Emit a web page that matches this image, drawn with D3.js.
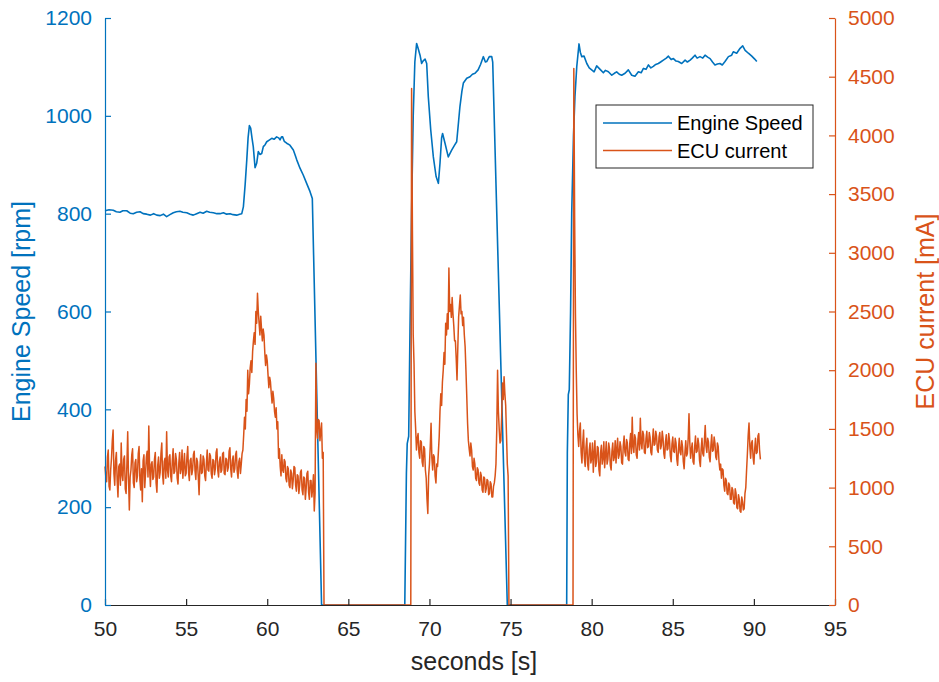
<!DOCTYPE html>
<html>
<head>
<meta charset="utf-8">
<script src="https://cdn.jsdelivr.net/npm/d3@7"></script>
<style>
  body { margin: 0; background: #fff; }
  svg { display: block; }
  text { font-family: "Liberation Sans", Arial, Helvetica, sans-serif; }
</style>
</head>
<body>
<svg id="chart" width="939" height="682"></svg>
<script>
// ---- axis ticks ----
const timeTicks = [50, 55, 60, 65, 70, 75, 80, 85, 90, 95];
const speedTicks = [0, 200, 400, 600, 800, 1000, 1200];
const currentTicks = [0, 500, 1000, 1500, 2000, 2500, 3000, 3500, 4000, 4500, 5000];

// ---- engine speed (time in s, speed in rpm) ----
const speedTime = [
  50.0, 50.25, 50.51, 50.7, 50.92, 51.1, 51.34, 51.55, 51.74, 51.95,
  52.16, 52.35, 52.57, 52.8, 53.0, 53.19, 53.4, 53.6, 53.8, 54.0,
  54.21, 54.4, 54.62, 54.8, 55.04, 55.25, 55.44, 55.65, 55.86, 56.05,
  56.27, 56.45, 56.68, 56.9, 57.09, 57.3, 57.5, 57.71, 57.9, 58.12,
  58.3, 58.43, 58.53, 58.64, 58.74, 58.82, 58.9, 58.98, 59.06, 59.14,
  59.25, 59.35, 59.45, 59.55, 59.66, 59.76, 59.87, 59.97, 60.1, 60.28,
  60.42, 60.58, 60.7, 60.79, 60.88, 60.95, 61.05, 61.2, 61.4, 61.61,
  61.72, 61.82, 62.02, 62.22, 62.43, 62.64, 62.78, 63.35,
  68.48, 68.58, 68.63, 68.72, 68.8, 68.9, 69.0, 69.1, 69.21, 69.3,
  69.42, 69.52, 69.6, 69.73, 69.83, 69.93, 70.08, 70.24, 70.41, 70.55,
  70.65, 70.75, 70.81, 70.96, 71.16, 71.37, 71.55, 71.68, 71.8, 71.88,
  72.0, 72.09, 72.3, 72.5, 72.65, 72.81, 73.0, 73.15, 73.32, 73.45,
  73.53, 73.69, 73.84, 73.9, 74.8,
  78.46, 78.5, 78.56, 78.62, 78.7, 78.77, 78.88, 78.97, 79.08, 79.22,
  79.3, 79.39, 79.53, 79.7, 79.85, 80.0, 80.15, 80.31, 80.52, 80.72,
  80.85, 81.03, 81.24, 81.4, 81.54, 81.7, 81.85, 82.06, 82.26, 82.47,
  82.67, 82.88, 83.05, 83.19, 83.35, 83.5, 83.65, 83.8, 83.95, 84.11,
  84.25, 84.42, 84.6, 84.73, 84.9, 85.04, 85.2, 85.34, 85.55, 85.76,
  85.9, 86.07, 86.2, 86.37, 86.5, 86.68, 86.85, 86.99, 87.15, 87.3,
  87.45, 87.6, 87.75, 87.91, 88.05, 88.22, 88.43, 88.63, 88.73, 88.94,
  89.15, 89.31, 89.46, 89.66, 89.87, 90.05, 90.18
];
const speedRpm = [
  806, 808, 807, 804, 803, 806, 806, 801, 800, 803,
  804, 800, 799, 797, 800, 797, 796, 799, 794, 798,
  802, 804, 805, 803, 802, 799, 797, 800, 803, 801,
  805, 803, 802, 800, 800, 802, 799, 800, 798, 797,
  799, 800, 814, 860, 910, 955, 980, 975, 955, 937,
  894, 903, 927, 921, 923, 937, 941, 947, 950, 954,
  952, 957, 955, 951, 957, 957, 948, 944, 940, 930,
  920, 910, 893, 879, 862, 845, 831, 0,
  0, 270, 330, 345, 560, 807, 1000, 1110, 1148, 1138,
  1124, 1107, 1112, 1116, 1107, 1039, 971, 916, 876, 862,
  903, 955, 964, 944, 916, 930, 940, 947, 990, 1019,
  1050, 1067, 1077, 1080, 1085, 1087, 1094, 1105, 1121, 1110,
  1111, 1121, 1121, 1110, 0,
  0, 310, 430, 440, 600, 801, 960, 1039, 1100, 1147,
  1130, 1121, 1122, 1107, 1098, 1094, 1090, 1102, 1095, 1088,
  1093, 1090, 1083, 1087, 1090, 1085, 1083, 1087, 1094, 1083,
  1081, 1090, 1088, 1097, 1095, 1104, 1098, 1101, 1105, 1107,
  1110, 1114, 1118, 1122, 1115, 1117, 1112, 1111, 1107, 1114,
  1110, 1114, 1118, 1124, 1118, 1121, 1118, 1124, 1120, 1117,
  1110, 1104, 1106, 1107, 1104, 1111, 1121, 1124, 1131, 1128,
  1138, 1143, 1134, 1128, 1122, 1116, 1111
];

// ---- ECU current (mA), logged in bursts sampled every 0.05 s ----
const currentStep = 0.05;
const currentBurstStarts = [50.0, 68.9, 78.9];
const currentBurst1 = [
  1180, 1090, 1050, 1260, 1320, 1010, 980, 1150, 1250, 1400,
  1490, 1120, 1020, 1230, 1300, 1060, 920, 1180, 1200, 1020,
  1380, 1110, 1060, 1240, 1270, 990, 950, 1200, 1475, 1080,
  810, 1090, 1150, 1280, 1330, 1040, 1000, 1210, 1240, 1050,
  1100, 1290, 1350, 1070, 980, 1160, 880, 1230, 1280, 1000,
  1120, 1260, 1310, 1090, 1525, 1160, 1010, 1200, 1220, 1070,
  1090, 1240, 1300, 1040, 960, 1190, 1260, 1080, 1130, 1290,
  1380, 1110, 1030, 1220, 1250, 1080, 1475, 1150, 1090, 1260,
  1280, 1100, 1050, 1230, 1330, 1120, 1140, 1290, 1240, 1080,
  1030, 1210, 1300, 1120, 1160, 1320, 1080, 1190, 1290, 1100,
  1120, 1260, 1350, 1130, 1060, 1230, 1250, 1110, 1150, 1280,
  1310, 1140, 1070, 1250, 1220, 1090, 940, 1180, 1280, 1120,
  1130, 1270, 1240, 1100, 1060, 1210, 1320, 1150, 1140, 1290,
  1270, 1120, 1080, 1240, 1230, 1110, 1160, 1300, 1330, 1150,
  1090, 1220, 1260, 1130, 1150, 1290, 1300, 1120, 1110, 1250,
  1240, 1140, 1170, 1310, 1340, 1160, 1090, 1230, 1270, 1130,
  1160, 1280, 1310, 1140, 1080, 1220, 1250, 1120, 1200, 1290,
  1320, 1450, 1600, 1500, 1750, 1650, 2000, 1800, 1880, 2020,
  2080, 1980, 2160, 2250, 2320, 2220, 2500, 2400, 2655, 2500,
  2400, 2300, 2460, 2350, 2250, 2350, 2300, 2150, 2040, 2130,
  2080, 1960, 1850, 1940, 1900, 1800, 1720, 1820, 1760, 1650,
  1600, 1680, 1500, 1560, 1250, 1330, 1180, 1100, 1280, 1150,
  1130, 1240, 1220, 1080, 1050, 1180, 1160, 1020, 1000, 1150,
  1120, 990, 1060, 1180, 1170, 1020, 970, 1110, 1100, 950,
  1020, 1130, 1150, 980, 940, 1090, 1080, 900, 990, 1120,
  1140, 960, 900, 1060, 1060, 920, 1000, 1110, 800, 950,
  2060, 1500, 1420, 1580, 1570, 1400, 1480, 1550, 1250, 1300
];
const currentBurst2 = [
  4400, 3200,
  2300, 2050, 1650, 1500, 1320, 1420, 1460, 1300, 1250, 1400,
  1390, 1220, 1180, 1350, 1330, 1150, 1080, 900, 780, 1100,
  1200, 1350, 1548, 1250, 1150, 1280, 1260, 1100, 1040, 1200,
  1180, 1300, 1430, 1650, 1800, 1700, 1900, 2000, 2150, 2050,
  2400, 2300, 2480, 2350, 2870, 2500, 2560, 2450, 2620, 2480,
  2380, 2250, 2250, 2100, 1917, 2200, 2456, 2550, 2640, 2480,
  2500, 2380, 2450, 2300, 2200, 2000, 1780, 1550, 1400, 1330,
  1270, 1380, 1320, 1180, 1150, 1250, 1200, 1080, 1060, 1170,
  1150, 1040, 1020, 1130, 1100, 980, 960, 1090, 1080, 960,
  990, 1070, 1060, 940, 950, 1050, 1030, 920, 920, 1010,
  1040, 1100, 1200, 1500, 2000, 1650, 1500, 1380, 1400, 1600,
  1890, 1750, 1945, 1800, 1700, 1450, 1200, 1100
];
const currentBurst3 = [
  4570, 3300,
  2480, 2000, 1630, 1450, 1350, 1480, 1550, 1300, 1210, 1380,
  1490, 1250, 1180, 1340, 1420, 1200, 1150, 1320, 1380, 1210,
  1250, 1380, 1130, 1290, 1400, 1180, 1220, 1350, 1340, 1150,
  1100, 1300, 1360, 1200, 1250, 1390, 1170, 1280, 1390, 1200,
  1240, 1380, 1330, 1190, 1150, 1310, 1380, 1230, 1260, 1400,
  1210, 1330, 1420, 1250, 1280, 1390, 1350, 1210, 1200, 1360,
  1440, 1300, 1270, 1410, 1380, 1240, 1230, 1380, 1460, 1290,
  1600, 1350, 1300, 1450, 1420, 1280, 1250, 1400, 1470, 1320,
  1590, 1380, 1330, 1480, 1450, 1300, 1290, 1420, 1480, 1340,
  1350, 1470, 1430, 1300, 1280, 1400, 1500, 1360, 1370, 1480,
  1440, 1320, 1300, 1430, 1470, 1330, 1360, 1480, 1420, 1290,
  1250, 1390, 1450, 1320, 1330, 1460, 1400, 1270, 1220, 1370,
  1430, 1310, 1300, 1420, 1380, 1240, 1190, 1330, 1420, 1300,
  1280, 1400, 1350, 1220, 1160, 1300, 1400, 1270, 1290, 1420,
  1630, 1380, 1250, 1330, 1380, 1220, 1200, 1350, 1440, 1300,
  1310, 1420, 1370, 1230, 1180, 1330, 1420, 1290, 1270, 1400,
  1530, 1350, 1300, 1420, 1390, 1260, 1220, 1360, 1450, 1310,
  1320, 1430, 1380, 1260, 1240, 1380, 1350, 1220, 1150, 1200,
  1080, 1160, 1150, 1020, 970, 1080, 1060, 950, 940, 1040,
  1020, 900, 900, 1000, 980, 870, 860, 990, 950, 830,
  820, 940, 900, 800, 790, 920, 880, 810, 820, 950,
  1000, 1150, 1290, 1450, 1550, 1350, 1250, 1380, 1400, 1260,
  1200, 1330, 1420, 1290, 1300, 1440, 1460, 1320, 1240
];

// ---- series labels ----
const seriesNames = ["Engine Speed", "ECU current"];

// ---- layout ----
const plot = { left: 105, right: 835, top: 18, bottom: 605 };
const blue = "#0072BD", orange = "#D95319", ink = "#262626";

const svg = d3.select("#chart");

const x = d3.scaleLinear().domain([50, 95]).range([plot.left, plot.right]);
const ySpeed = d3.scaleLinear().domain([0, 1200]).range([plot.bottom, plot.top]);
const yCurrent = d3.scaleLinear().domain([0, 5000]).range([plot.bottom, plot.top]);

// Assemble series
const speedData = speedTime.map((t, i) => ({ t, v: speedRpm[i] }));
const bursts = [currentBurst1, currentBurst2, currentBurst3];
const currentData = [];
bursts.forEach((vals, b) => {
  const start = currentBurstStarts[b];
  vals.forEach((v, i) => currentData.push({ t: +(start + i * currentStep).toFixed(2), v }));
  if (b < bursts.length - 1) {
    // supply is off between bursts: current sits at zero
    const offStart = +(start + vals.length * currentStep).toFixed(2);
    const offEnd = +(currentBurstStarts[b + 1] - currentStep).toFixed(2);
    currentData.push({ t: offStart, v: 0 });
    currentData.push({ t: offEnd, v: 0 });
  }
});

// Lines
const speedLine = d3.line().x(d => x(d.t)).y(d => ySpeed(d.v));
const currentLine = d3.line().x(d => x(d.t)).y(d => yCurrent(d.v));

svg.append("path")
  .datum(speedData)
  .attr("d", speedLine)
  .attr("fill", "none")
  .attr("stroke", blue)
  .attr("stroke-width", 1.6)
  .attr("stroke-linejoin", "round");

svg.append("path")
  .datum(currentData)
  .attr("d", currentLine)
  .attr("fill", "none")
  .attr("stroke", orange)
  .attr("stroke-width", 1.5)
  .attr("stroke-linejoin", "round");

// Axes
const fmt = d3.format("d");
function styleAxis(g, color, size) {
  g.select(".domain").attr("stroke", color).attr("stroke-width", 1.2);
  g.selectAll(".tick line").attr("stroke", color).attr("stroke-width", 1.2);
  g.selectAll(".tick text").attr("fill", color).attr("font-size", size)
    .style("font-family", '"Liberation Sans", Arial, sans-serif');
}

const gx = svg.append("g")
  .attr("transform", `translate(0,${plot.bottom})`)
  .call(d3.axisBottom(x).tickValues(timeTicks).tickFormat(fmt)
    .tickSizeInner(-6).tickSizeOuter(0).tickPadding(16));
styleAxis(gx, ink, 21);

const gl = svg.append("g")
  .attr("transform", `translate(${plot.left},0)`)
  .call(d3.axisLeft(ySpeed).tickValues(speedTicks).tickFormat(fmt)
    .tickSizeInner(-6).tickSizeOuter(0).tickPadding(13));
styleAxis(gl, blue, 21);

const gr = svg.append("g")
  .attr("transform", `translate(${plot.right},0)`)
  .call(d3.axisRight(yCurrent).tickValues(currentTicks).tickFormat(fmt)
    .tickSizeInner(-6).tickSizeOuter(0).tickPadding(13));
styleAxis(gr, orange, 21);

// Axis titles
svg.append("text")
  .attr("x", (plot.left + plot.right) / 2 + 4)
  .attr("y", 670)
  .attr("text-anchor", "middle")
  .attr("font-size", 25)
  .attr("fill", ink)
  .text("seconds [s]");

svg.append("text")
  .attr("transform", `translate(30,${(plot.top + plot.bottom) / 2}) rotate(-90)`)
  .attr("text-anchor", "middle")
  .attr("font-size", 25)
  .attr("fill", blue)
  .text("Engine Speed [rpm]");

svg.append("text")
  .attr("transform", `translate(934,${(plot.top + plot.bottom) / 2}) rotate(-90)`)
  .attr("text-anchor", "middle")
  .attr("font-size", 25)
  .attr("fill", orange)
  .text("ECU current [mA]");

// Legend
const legend = svg.append("g").attr("transform", "translate(596,105)");
legend.append("rect")
  .attr("width", 217).attr("height", 63)
  .attr("fill", "#fff").attr("stroke", ink).attr("stroke-width", 1);
[blue, orange].forEach((c, i) => {
  const yy = 18 + i * 27.5;
  legend.append("line")
    .attr("x1", 7).attr("x2", 76).attr("y1", yy).attr("y2", yy)
    .attr("stroke", c).attr("stroke-width", 1.3);
  legend.append("text")
    .attr("x", 81).attr("y", yy + 7)
    .attr("font-size", 20).attr("fill", "#000")
    .text(seriesNames[i]);
});
</script>
</body>
</html>
